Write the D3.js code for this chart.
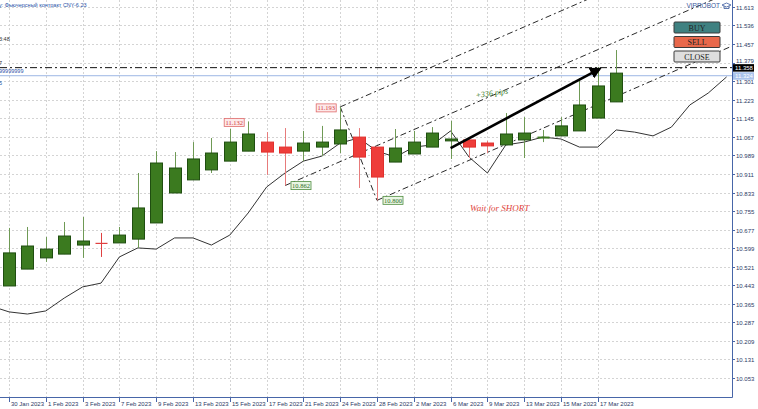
<!DOCTYPE html>
<html><head><meta charset="utf-8">
<script src="https://cdn.jsdelivr.net/npm/d3@7"></script>
<style>html,body{margin:0;padding:0;background:#fff;overflow:hidden}</style>
</head><body><svg id="c" width="758" height="409"></svg>
<script>
// ---------- data ----------
const barDates = ["30 Jan","31 Jan","1 Feb","2 Feb","3 Feb","6 Feb","7 Feb","8 Feb","9 Feb","10 Feb","13 Feb","14 Feb","15 Feb","16 Feb","17 Feb","20 Feb","21 Feb","22 Feb","24 Feb","27 Feb","28 Feb","1 Mar","2 Mar","3 Mar","6 Mar","7 Mar","9 Mar","10 Mar","13 Mar","14 Mar","15 Mar","16 Mar","17 Mar","20 Mar"];
const openP  = [10.440,10.511,10.558,10.574,10.612,10.619,10.621,10.637,10.705,10.831,10.886,10.928,10.965,11.007,11.045,11.024,11.007,11.024,11.037,11.066,11.024,10.961,10.995,11.024,11.050,11.054,11.041,11.033,11.054,11.064,11.071,11.092,11.146,11.214];
const highP  = [10.684,10.688,10.646,10.709,10.730,10.663,10.688,10.915,11.007,11.003,11.045,11.062,11.100,11.132,11.087,11.104,11.092,11.113,11.193,11.104,11.024,11.100,11.092,11.108,11.134,11.066,11.050,11.167,11.150,11.096,11.150,11.314,11.361,11.432];
const lowP   = [10.440,10.511,10.541,10.574,10.558,10.562,10.621,10.600,10.705,10.831,10.886,10.915,10.965,11.007,10.907,10.862,10.965,10.986,10.999,10.852,10.800,10.961,10.995,11.024,10.974,10.978,10.999,11.033,10.978,11.045,11.071,11.092,11.146,11.214];
const closeP = [10.579,10.608,10.595,10.650,10.629,10.615,10.654,10.768,10.957,10.936,10.974,10.999,11.045,11.079,11.003,10.999,11.041,11.045,11.096,10.982,10.898,11.020,11.045,11.083,11.058,11.024,11.029,11.079,11.083,11.068,11.113,11.201,11.281,11.335];

const maStart = -1; // first bar index of the shifted moving average
const maValues = [10.356,10.331,10.322,10.335,10.389,10.436,10.452,10.562,10.600,10.595,10.642,10.642,10.612,10.654,10.747,10.856,10.915,10.965,10.986,11.041,11.062,11.007,10.982,11.024,11.033,11.092,10.982,10.915,11.033,11.045,11.066,11.058,11.024,11.024,11.096,11.087,11.071,11.108,11.201,11.251,11.319];

const xTickBars   = [0,2,4,6,8,10,12,14,16,18,20,22,24,26,28,30,32];
const xTickLabels = ["30 Jan 2023","1 Feb 2023","3 Feb 2023","7 Feb 2023","9 Feb 2023","13 Feb 2023","15 Feb 2023","17 Feb 2023","21 Feb 2023","24 Feb 2023","28 Feb 2023","2 Mar 2023","6 Mar 2023","9 Mar 2023","13 Mar 2023","15 Mar 2023","17 Mar 2023"];
const yTicks = [11.613,11.536,11.457,11.379,11.301,11.223,11.145,11.067,10.989,10.911,10.833,10.755,10.677,10.599,10.521,10.443,10.365,10.287,10.209,10.131,10.053];

const pivotBars   = [13,18,15,20];
const pivotPrices = [11.132,11.193,10.862,10.800];
const pivotKinds  = ["high","high","low","low"];

const forkBars   = [15,18,20];          // Andrews' pitchfork A, B, C
const forkPrices = [10.862,11.193,10.800];

const arrowBars   = [24,32.1];
const arrowPrices = [11.020,11.353];

const bidPrice = 11.358, askPrice = 11.324;
const buttons = ["BUY","SELL","CLOSE"];

// ---------- layout ----------
const svg = d3.select("#c");
const plotR = 732, plotB = 397;
const x = d3.scaleLinear().domain([0,39]).range([9,726.6]);
const y = d3.scaleLinear().domain([10.053,11.613]).range([378,7]);

svg.append("defs").append("clipPath").attr("id","clip")
  .append("rect").attr("x",0).attr("y",0).attr("width",plotR).attr("height",plotB);
svg.select("defs").append("marker").attr("id","ah").attr("viewBox","0 0 10 10")
  .attr("refX",8).attr("refY",5).attr("markerWidth",4.5).attr("markerHeight",4.5).attr("orient","auto")
  .append("path").attr("d","M0,0 L10,5 L0,10 z").attr("fill","#000");

const plot = svg.append("g").attr("clip-path","url(#clip)");

// grid
plot.selectAll(".gy").data(yTicks).join("line")
  .attr("x1",0).attr("x2",plotR).attr("y1",d=>Math.round(y(d))+0.5).attr("y2",d=>Math.round(y(d))+0.5)
  .attr("stroke","#d4d4d4").attr("stroke-dasharray","2,2");
plot.selectAll(".gx").data(xTickBars).join("line")
  .attr("y1",0).attr("y2",plotB).attr("x1",d=>Math.round(x(d))+0.5).attr("x2",d=>Math.round(x(d))+0.5)
  .attr("stroke","#d4d4d4").attr("stroke-dasharray","2,2");

// horizontal price lines
plot.append("line").attr("x1",0).attr("x2",plotR).attr("y1",y(askPrice)).attr("y2",y(askPrice))
  .attr("stroke","#9db6e4").attr("stroke-width",1);
plot.append("line").attr("x1",0).attr("x2",plotR).attr("y1",y(bidPrice)).attr("y2",y(bidPrice))
  .attr("stroke","#111").attr("stroke-width",1).attr("stroke-dasharray","7,3,2,3");

// pitchfork
const [aB,bB,cB] = forkBars, [aP,bP,cP] = forkPrices;
const mB = (bB+cB)/2, mP = (bP+cP)/2, slope = (mP-aP)/(mB-aB);
const endB = 45;
const forkLines = [
  [aB,aP,endB,aP+slope*(endB-aB)],
  [bB,bP,endB,bP+slope*(endB-bB)],
  [cB,cP,endB,cP+slope*(endB-cB)],
  [bB,bP,cB,cP]
];
plot.selectAll(".fork").data(forkLines).join("line")
  .attr("x1",d=>x(d[0])).attr("y1",d=>y(d[1])).attr("x2",d=>x(d[2])).attr("y2",d=>y(d[3]))
  .attr("stroke","#2a2a2a").attr("stroke-width",1).attr("stroke-dasharray","6,3,2,3");

// moving average
const maData = maValues.map((v,i)=>[maStart+i,v]);
plot.append("path").datum(maData)
  .attr("d",d3.line().x(d=>x(d[0])).y(d=>y(d[1])))
  .attr("fill","none").attr("stroke","#333").attr("stroke-width",1);

// candles
const candles = openP.map((o,i)=>({i,o,h:highP[i],l:lowP[i],c:closeP[i],date:barDates[i]}));
const bw = 12;
const cg = plot.append("g");
candles.forEach(d=>{
  const up = d.c >= d.o, doji = Math.abs(d.c-d.o) < 0.006;
  const wick = up ? "#6f9a55" : "#e77b7b";
  const fill = up ? "#3b7a1f" : "#ee3d3a";
  const edge = up ? "#1f4e10" : "#e0302d";
  const cx = Math.round(x(d.i))+0.5;
  cg.append("line").attr("x1",cx).attr("x2",cx).attr("y1",y(d.h)).attr("y2",y(d.l))
    .attr("stroke", (doji && !up) ? "#e04040" : wick).attr("stroke-width",1);
  if (doji) {
    cg.append("line").attr("x1",cx-bw/2).attr("x2",cx+bw/2).attr("y1",y(d.o)).attr("y2",y(d.o))
      .attr("stroke", up ? "#3b7a1f" : "#e04040").attr("stroke-width", up?2:1.2);
  } else {
    const top = y(Math.max(d.o,d.c)), bot = y(Math.min(d.o,d.c));
    cg.append("rect").attr("x",cx-bw/2).attr("y",top).attr("width",bw).attr("height",bot-top)
      .attr("fill",fill).attr("stroke",edge).attr("stroke-width",1);
  }
});

// pivot labels
pivotBars.forEach((b,k)=>{
  const px = x(b), py = y(pivotPrices[k]), hi = pivotKinds[k]==="high";
  const bx = hi ? px-24 : px+6, byc = hi ? py+1 : py;
  const g = plot.append("g");
  g.append("rect").attr("x",bx).attr("y",byc-4).attr("width",20).attr("height",8)
    .attr("fill", hi ? "#fde9e9" : "#e9f6e3").attr("stroke", hi ? "#e06a6a" : "#4f8c3f").attr("stroke-width",0.8);
  g.append("text").attr("x",bx+10).attr("y",byc).attr("dy","0.35em").attr("text-anchor","middle")
    .attr("font-family","Liberation Serif, serif").attr("font-size",6.5)
    .attr("fill", hi ? "#d23a3a" : "#2f6b22").text(pivotPrices[k].toFixed(3));
});

// arrow
plot.append("line").attr("x1",x(arrowBars[0])).attr("y1",y(arrowPrices[0]))
  .attr("x2",x(arrowBars[1])).attr("y2",y(arrowPrices[1]))
  .attr("stroke","#000").attr("stroke-width",2.6).attr("marker-end","url(#ah)");

// annotations
const pipsX = 476, pipsY = 98;
plot.append("text").attr("x",pipsX).attr("y",pipsY).attr("transform",`rotate(-8,${pipsX},${pipsY})`)
  .attr("font-family","Liberation Serif, serif").attr("font-style","italic").attr("font-size",8)
  .attr("fill","#3a7a1e").text("+336 pips");
plot.append("text").attr("x",470).attr("y",211)
  .attr("font-family","Liberation Serif, serif").attr("font-style","italic").attr("font-size",9)
  .attr("fill","#e0443c").text("Wait for SHORT");

// top-left texts
const tl = svg.append("g").attr("font-family","Liberation Sans, Arial, sans-serif").attr("font-size",5.5).attr("fill","#2a52a8");
tl.append("text").attr("x",-1).attr("y",7).text("у: Фьючерсный контракт CNY-6.23");
tl.append("text").attr("x",-1).attr("y",41).attr("fill","#333").text("3:48");
tl.append("text").attr("x",-1).attr("y",65).attr("fill","#333").text("7");
tl.append("text").attr("x",-1).attr("y",73).text("99999999");
tl.append("text").attr("x",-1).attr("y",85).text("5");

// buttons
const btnFill = ["#3f8181","#e8684b","#dedede"];
buttons.forEach((b,k)=>{
  const by = 22 + k*14.5;
  svg.append("rect").attr("x",674).attr("y",by).attr("width",46).attr("height",11).attr("rx",1)
    .attr("fill",btnFill[k]).attr("stroke","#3a3a3a").attr("stroke-width",1);
  svg.append("text").attr("x",697).attr("y",by+5.7).attr("dy","0.35em").attr("text-anchor","middle")
    .attr("font-family","Liberation Serif, serif").attr("font-size",8).attr("fill","#222").text(b);
});

// VIPROBOT logo
svg.append("text").attr("x",720).attr("y",8).attr("text-anchor","end")
  .attr("font-family","Liberation Sans, Arial, sans-serif").attr("font-size",6.5).attr("fill","#3a5a9e").text("VIPROBOT");
svg.append("path").attr("d","M722,5 L726.5,3 L731,5 L726.5,7 Z M724,6 L724,8.5 L729,8.5 L729,6")
  .attr("fill","none").attr("stroke","#3a5a9e").attr("stroke-width",0.8);

// axes
const axisCol = "#4866a8", labCol = "#2b3a66";
svg.append("line").attr("x1",plotR+0.5).attr("x2",plotR+0.5).attr("y1",0).attr("y2",plotB+0.5).attr("stroke",axisCol).attr("stroke-width",1);
svg.append("line").attr("x1",0).attr("x2",plotR+0.5).attr("y1",plotB+0.5).attr("y2",plotB+0.5).attr("stroke",axisCol).attr("stroke-width",1);

const ya = svg.append("g").attr("font-family","Liberation Sans, Arial, sans-serif").attr("font-size",6).attr("fill",labCol);
yTicks.forEach(t=>{
  const yy = Math.round(y(t))+0.5;
  ya.append("line").attr("x1",plotR).attr("x2",plotR+3).attr("y1",yy).attr("y2",yy).attr("stroke",axisCol);
  // the 11.379 label sits partly under the bid tag; nudge it up a little so both stay legible
  const shift = Math.abs(t - bidPrice) < 0.03 ? -2.5 : 0;
  ya.append("text").attr("x",plotR+4).attr("y",yy+shift).attr("dy","0.35em").text(t.toFixed(3));
});

const xa = svg.append("g").attr("font-family","Liberation Sans, Arial, sans-serif").attr("font-size",6).attr("fill",labCol);
xTickBars.forEach((b,k)=>{
  const xx = Math.round(x(b))+0.5;
  xa.append("line").attr("x1",xx).attr("x2",xx).attr("y1",plotB).attr("y2",plotB+5).attr("stroke",axisCol);
  xa.append("text").attr("x",xx+1.5).attr("y",406).text(xTickLabels[k]);
});

// price tags
svg.append("rect").attr("x",plotR+1).attr("y",y(bidPrice)-3.5).attr("width",21).attr("height",7.5).attr("fill","#000");
svg.append("text").attr("x",plotR+3).attr("y",y(bidPrice)+0.3).attr("dy","0.35em")
  .attr("font-family","Liberation Sans, Arial, sans-serif").attr("font-size",6).attr("fill","#fff").text(bidPrice.toFixed(3));
svg.append("rect").attr("x",plotR+1).attr("y",y(askPrice)-3.5).attr("width",21).attr("height",7.5).attr("fill","#aac3ec");
svg.append("text").attr("x",plotR+3).attr("y",y(askPrice)+0.3).attr("dy","0.35em")
  .attr("font-family","Liberation Sans, Arial, sans-serif").attr("font-size",6).attr("fill","#fff").text(askPrice.toFixed(3));
</script>
</body></html>
